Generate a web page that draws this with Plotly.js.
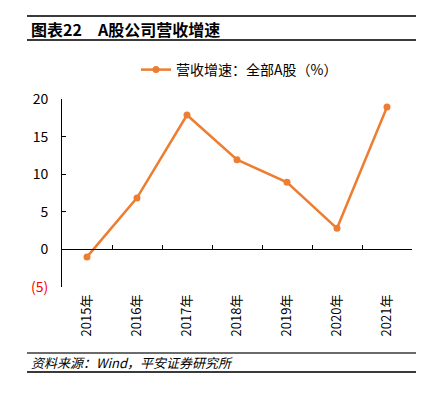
<!DOCTYPE html>
<html><head><meta charset="utf-8">
<script src="https://cdn.plot.ly/plotly-3.0.1.min.js"></script>
<style>html,body{margin:0;padding:0;background:#fff;}#chart{width:430px;height:397px;}</style>
</head><body><div id="chart"></div>
<script>
const years = ['2015年','2016年','2017年','2018年','2019年','2020年','2021年'];
const growth = [-1.0, 6.85, 17.87, 11.92, 8.93, 2.8, 18.93];
const seriesName = '营收增速：全部A股（%）';
const yTickVals = [-5, 0, 5, 10, 15, 20];
const yTickText = ['<span style="color:#FF0000">(5)</span>', '0', '5', '10', '15', '20'];

const L = 62, R = 412, T = 99, B = 287, W = 430, H = 397;
const px = x => (x - L) / (R - L);
const py = y => (B - y) / (B - T);
const font = "'Noto Sans CJK SC', 'Noto Sans', sans-serif";

const traces = [
  {x: years, y: growth, type: 'scatter', mode: 'lines+markers', name: seriesName,
   line: {color: '#ED7D31', width: 2.5}, marker: {color: '#ED7D31', size: 7}},
  {x: years, y: growth, type: 'scatter', mode: 'none', xaxis: 'x2', showlegend: false, hoverinfo: 'skip'}
];

const rule = (y, w) => ({type: 'line', xref: 'paper', yref: 'paper', x0: px(27), x1: px(416), y0: py(y), y1: py(y),
  line: {color: '#3a3a3a', width: w}});

const layout = {
  width: W, height: H,
  margin: {l: L, r: W - R, t: T, b: H - B, pad: 0},
  paper_bgcolor: '#fff', plot_bgcolor: '#fff',
  font: {family: font, size: 13, color: '#000'},
  showlegend: true,
  legend: {orientation: 'h', x: px(136), xanchor: 'left', y: py(70), yanchor: 'middle',
    font: {family: font, size: 14, color: '#000'}, bgcolor: 'rgba(0,0,0,0)'},
  xaxis: {type: 'category', range: [-0.5, 6.5], showline: false, ticks: '', showgrid: false, zeroline: false,
    tickangle: -90, tickfont: {family: font, size: 13, color: '#000'}, ticklabelstandoff: 4},
  xaxis2: {type: 'category', overlaying: 'x', matches: 'x', anchor: 'free', position: py(248.7),
    showline: true, linecolor: '#000', linewidth: 1, ticks: 'inside', tickson: 'boundaries', ticklen: 4,
    tickcolor: '#000', showticklabels: false, showgrid: false, zeroline: false},
  yaxis: {range: [-5, 20], tickvals: yTickVals, ticktext: yTickText, showline: true, linecolor: '#000', linewidth: 1,
    ticks: 'inside', ticklen: 4, tickcolor: '#000', showgrid: false, zeroline: false,
    tickfont: {family: font, size: 14, color: '#000'}, ticklabelstandoff: 10},
  shapes: [rule(16, 2), rule(40, 2), rule(353, 1.5), rule(372, 2)],
  annotations: [
    {text: '<b>图表22　A股公司营收增速</b>', xref: 'paper', yref: 'paper', x: px(29), y: py(29),
     xanchor: 'left', yanchor: 'middle', showarrow: false, font: {family: font, size: 16, color: '#000'}},
    {text: '<i>资料来源：Wind，平安证券研究所</i>', xref: 'paper', yref: 'paper', x: px(29), y: py(362),
     xanchor: 'left', yanchor: 'middle', showarrow: false, font: {family: font, size: 13, color: '#000'}}
  ]
};
Plotly.newPlot('chart', traces, layout, {displayModeBar: false, staticPlot: true});
</script></body></html>
